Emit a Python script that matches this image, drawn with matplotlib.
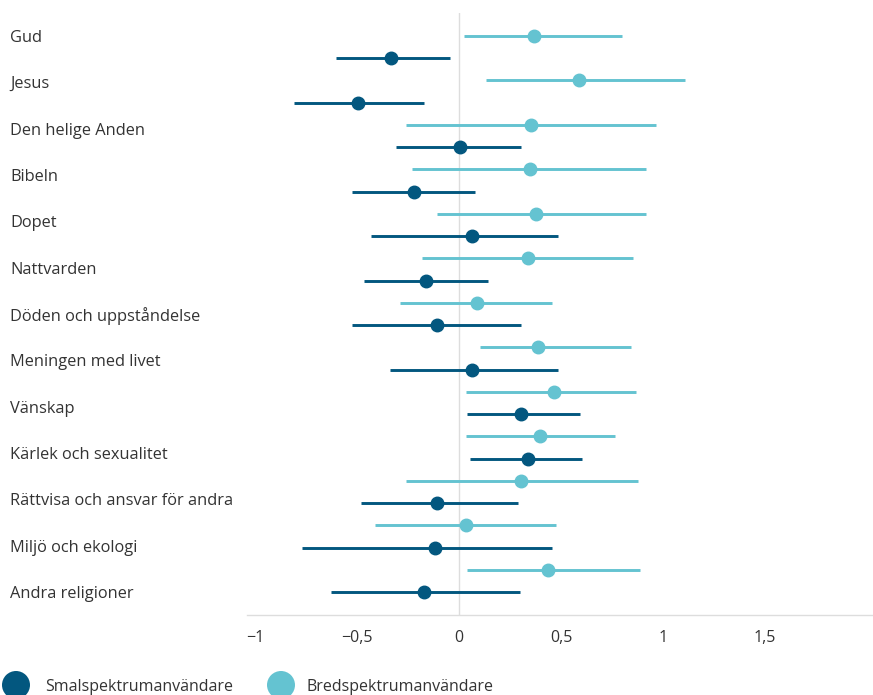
import matplotlib
matplotlib.use("Agg")
import matplotlib.pyplot as plt
import matplotlib.transforms as mtransforms
from matplotlib.patches import Ellipse
import numpy as np

plt.rcParams['font.family'] = ['Open Sans', 'DejaVu Sans']

categories = ["Gud", "Jesus", "Den helige Anden", "Bibeln", "Dopet", "Nattvarden",
              "Döden och uppståndelse", "Meningen med livet", "Vänskap",
              "Kärlek och sexualitet", "Rättvisa och ansvar för andra",
              "Miljö och ekologi", "Andra religioner"]

bred_mean = [0.368, 0.588, 0.353, 0.348, 0.377, 0.338, 0.088, 0.387, 0.466, 0.397, 0.304, 0.034, 0.436]
bred_low = [0.025, 0.132, -0.260, -0.230, -0.108, -0.181, -0.289, 0.103, 0.034, 0.034, -0.260, -0.412, 0.039]
bred_high = [0.800, 1.108, 0.966, 0.917, 0.917, 0.853, 0.456, 0.843, 0.868, 0.765, 0.877, 0.475, 0.887]

smal_mean = [-0.333, -0.495, 0.005, -0.221, 0.064, -0.162, -0.108, 0.064, 0.304, 0.338, -0.108, -0.118, -0.172]
smal_low = [-0.603, -0.809, -0.309, -0.525, -0.431, -0.466, -0.525, -0.338, 0.039, 0.054, -0.480, -0.770, -0.627]
smal_high = [-0.044, -0.172, 0.304, 0.078, 0.485, 0.142, 0.304, 0.485, 0.593, 0.603, 0.289, 0.456, 0.299]

series_names = ["Smalspektrumanvändare", "Bredspektrumanvändare"]

xticks = [-1, -0.5, 0, 0.5, 1, 1.5]
xticklabels = ["\u22121", "\u22120,5", "0", "0,5", "1", "1,5"]

dark = "#03577f"
light = "#64c3d1"
textc = "#333333"

fig = plt.figure(figsize=(8.73, 6.95), dpi=100)
ax = fig.add_axes([247/873, 1-615/695, 1-247/873, (615-13)/695])

n = len(categories)
bred_y = np.arange(n) * 2
smal_y = np.arange(n) * 2 + 1

ax.axvline(0, color="#dddddd", lw=1, zorder=0)

for i in range(n):
    ax.plot([bred_low[i], bred_high[i]], [bred_y[i], bred_y[i]], color=light, lw=2.1, solid_capstyle='butt', zorder=2)
    ax.plot([smal_low[i], smal_high[i]], [smal_y[i], smal_y[i]], color=dark, lw=2.1, solid_capstyle='butt', zorder=2)
ax.plot(bred_mean, bred_y, 'o', color=light, ms=9, zorder=3)
ax.plot(smal_mean, smal_y, 'o', color=dark, ms=9, zorder=3)

ax.set_xlim(-1 - 8/204, -1 - 8/204 + 626/204)
row = 22.24
ax.set_ylim((615-36)/row, -(36-13)/row)

for s in ['top', 'right', 'left']:
    ax.spines[s].set_visible(False)
ax.spines['bottom'].set_color("#dddddd")
ax.spines['bottom'].set_linewidth(1)
ax.set_yticks([])
ax.set_xticks(xticks)
ax.set_xticklabels(xticklabels, fontsize=11.5, color=textc)
ax.tick_params(axis='x', length=0, pad=11)

trans = mtransforms.blended_transform_factory(fig.transFigure, ax.transData)
label_pos = np.linspace(0, 2*n - 1, n)
for lab, yy in zip(categories, label_pos):
    ax.text(10/873, yy, lab, transform=trans, ha='left', va='center_baseline', fontsize=11.8, color=textc)

# legend drawn at figure level
leg_items = [(16, 45, dark, series_names[0]), (281, 306, light, series_names[1])]
for cx, tx, col, name in leg_items:
    fig.add_artist(Ellipse((cx/873, 1-685/695), 28/873, 28/695, transform=fig.transFigure,
                           facecolor=col, edgecolor='none'))
    fig.text(tx/873, 1-685/695, name, ha='left', va='center_baseline', fontsize=11.5, color=textc)

fig.savefig("out.png", dpi=100)
